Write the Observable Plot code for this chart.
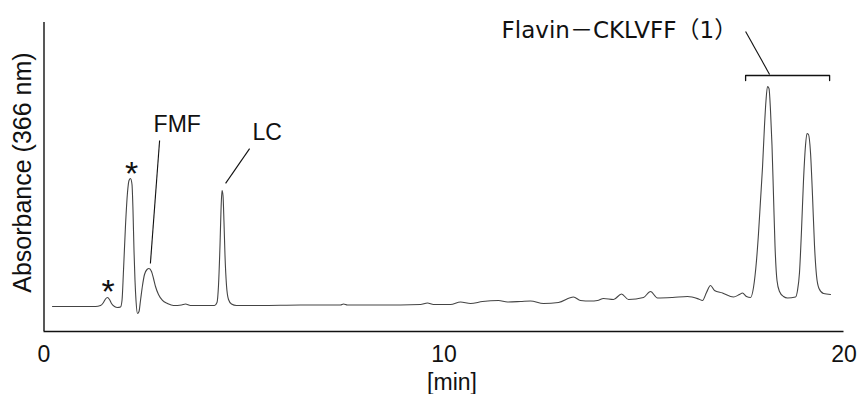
<!DOCTYPE html>
<html><head><meta charset="utf-8">
<script src="https://cdn.jsdelivr.net/npm/d3@7"></script>
<script src="https://cdn.jsdelivr.net/npm/@observablehq/plot@0.6"></script>
<style>body{margin:0;background:#fff}</style>
</head><body><div id="chart"></div>
<script>
// retention time [min]
const time = [0.2125,0.9125,1.2875,1.4125,1.4875,1.5375,1.5875,1.6375,1.6875,1.7625,1.8375,1.9125,1.95,1.9875,2.0375,2.0875,2.125,2.1625,2.2,2.225,2.25,2.275,2.3,2.3375,2.375,2.4125,2.4625,2.5125,2.575,2.625,2.6875,2.7375,2.7875,2.8625,2.9625,3.0875,3.2375,3.4375,3.5375,3.6625,3.9125,4.2625,4.325,4.3625,4.4,4.425,4.45,4.475,4.5,4.525,4.5625,4.6125,4.6875,4.8125,5.4125,6.4125,7.4125,7.4875,7.5875,8.9125,9.4125,9.5875,9.7375,10.1625,10.4125,10.6625,10.9625,11.3625,11.5875,11.9125,12.1625,12.4875,12.8625,13.2375,13.4125,13.6625,13.8375,13.9875,14.2375,14.4375,14.6125,14.9875,15.1625,15.3375,15.7125,16.0875,16.3625,16.4625,16.5625,16.6625,16.7625,16.9625,17.2375,17.3875,17.4625,17.5625,17.6625,17.7375,17.8125,17.8625,17.9125,17.9625,18.0125,18.05,18.0875,18.125,18.1625,18.2,18.2375,18.275,18.325,18.3875,18.4875,18.5875,18.7875,18.8375,18.8875,18.9375,18.9875,19.0375,19.075,19.1125,19.1625,19.2125,19.2625,19.3125,19.375,19.4875,19.6625];
// absorbance at 366 nm (arbitrary units, baseline = 0)
const absorbance = [-0.33,-0.33,-0.33,0,1.0,2.17,2.67,2.0,0.67,-0.33,-0.67,-0.5,1.67,11.67,26.67,37.67,41.67,42.33,40.33,31.67,18.33,8.33,1.67,-2.67,-2.0,1.67,6.67,10.33,12.0,12.33,11.33,9.0,6.33,3.67,1.67,0.67,0,0.17,0.5,0,0,0,1.0,6.67,20.0,31.67,38.33,36.67,27.67,16.67,6.67,2.0,0.5,0,0,0.17,0.17,0.5,0.17,0.17,0.33,0.83,0.33,0.33,1.17,0.67,1.33,1.67,1.17,1.33,1.5,0.67,1.0,2.83,1.67,1.5,1.67,2.33,2.0,3.83,2.0,2.67,4.67,2.5,2.67,3.0,2.17,1.67,4.33,6.67,5.0,4.17,2.83,3.67,4.17,3.0,2.67,6.0,15.0,24.0,35.0,46.0,60.0,68.33,73.0,72.33,65.0,53.33,36.67,20.0,8.33,4.67,3.0,2.5,2.83,5.0,11.0,25.0,41.67,53.33,57.33,57.0,51.0,36.67,20.0,10.0,5.67,4.0,3.67];

const xTicks = [0, 10, 20];
const xDomain = [0, 20];
const yDomain = [-8.67, 94.33];
const xTitle = "[min]";
const yTitle = "Absorbance (366 nm)";

// peak annotations
const starLabels = ["*", "*"];
const starX = [1.6, 2.19];
const starY = [0.9, 40.2];
const nameLabels = ["FMF", "LC", "Flavin－CKLVFF（1）"];
const nameX = [2.74, 5.21, 11.44];
const nameY = [57.67, 55.33, 89.33];
const leaderX1 = [2.89, 5.14, 17.54];
const leaderY1 = [55.0, 52.3, 91.3];
const leaderX2 = [2.66, 4.54, 18.14];
const leaderY2 = [14.0, 40.7, 77.0];
const bracketX = [17.54, 17.54, 19.64, 19.64];
const bracketY = [75.0, 76.67, 76.67, 75.0];

const trace = time.map((t, i) => ({t, a: absorbance[i]}));
const stars = starLabels.map((s, i) => ({s, x: starX[i], y: starY[i]}));
const names = nameLabels.map((s, i) => ({s, x: nameX[i], y: nameY[i]}));
const leaders = leaderX1.map((x1, i) => ({x1, y1: leaderY1[i], x2: leaderX2[i], y2: leaderY2[i]}));
const bracket = bracketX.map((x, i) => ({x, y: bracketY[i]}));

const sans = "'Liberation Sans', Arial, sans-serif";

const chart = Plot.plot({
  width: 859,
  height: 394,
  marginLeft: 43.5,
  marginRight: 15.5,
  marginTop: 22,
  marginBottom: 63,
  style: {background: "#fff", color: "#111"},
  x: {domain: xDomain},
  y: {domain: yDomain, axis: null},
  marks: [
    Plot.axisX(xTicks, {tickSize: 0, tickPadding: 14, fontSize: 23, fontFamily: sans, label: null}),
    Plot.ruleX([0], {stroke: "#111", strokeWidth: 1.4}),
    Plot.ruleY([yDomain[0]], {stroke: "#111", strokeWidth: 1.4}),
    Plot.line(trace, {x: "t", y: "a", stroke: "#444", strokeWidth: 1.1, curve: "monotone-x"}),
    Plot.link(leaders, {x1: "x1", y1: "y1", x2: "x2", y2: "y2", stroke: "#111", strokeWidth: 1.1}),
    Plot.line(bracket, {x: "x", y: "y", stroke: "#111", strokeWidth: 1.3}),
    Plot.text(stars, {x: "x", y: "y", text: "s", fontSize: 34, fontFamily: sans, lineAnchor: "bottom", fill: "#111"}),
    Plot.text(names.slice(0, 2), {x: "x", y: "y", text: "s", fontSize: 23, fontFamily: sans, lineAnchor: "bottom", textAnchor: "start", fill: "#111"}),
    Plot.text(names.slice(2), {x: "x", y: "y", text: "s", fontSize: 23, fontFamily: "'DejaVu Sans', 'Noto Sans CJK JP', sans-serif", lineAnchor: "bottom", textAnchor: "start", fill: "#111"}),
    Plot.text([xTitle], {x: 10.2, text: d => d, frameAnchor: "bottom", dy: 58, lineAnchor: "bottom", fontSize: 23, fontFamily: sans, fill: "#111"}),
    Plot.text([yTitle], {y: 44.3, text: d => d, frameAnchor: "left", dx: -21.5, rotate: -90, fontSize: 25, fontFamily: sans, lineAnchor: "middle", textAnchor: "middle", fill: "#111"})
  ]
});
document.getElementById("chart").appendChild(chart);
</script>
</body></html>
